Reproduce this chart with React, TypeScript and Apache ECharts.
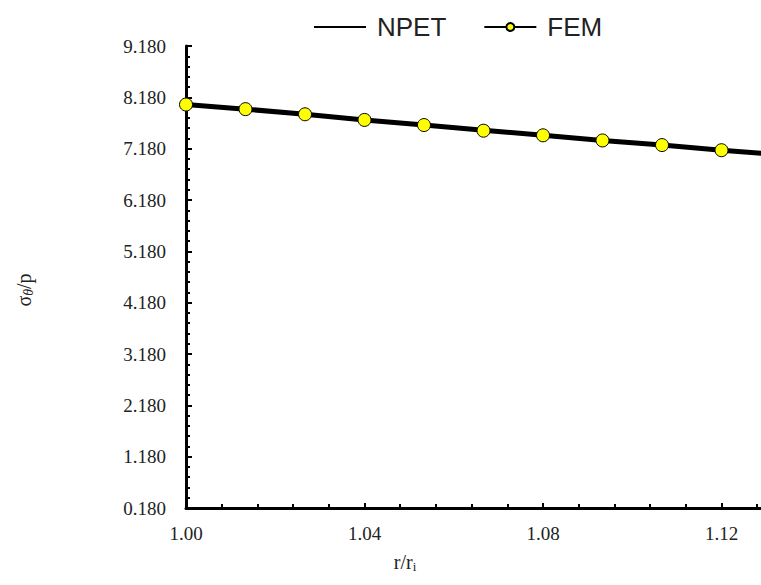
import React, { useEffect, useRef } from "react";
import * as echarts from "echarts";

const femX = [1.0, 1.01333, 1.02667, 1.04, 1.05333, 1.06667, 1.08, 1.09333, 1.10667, 1.12];
const femY = [8.04, 7.95, 7.85, 7.74, 7.64, 7.53, 7.44, 7.34, 7.25, 7.15];
const npetX = [1.0, 1.01333, 1.02667, 1.04, 1.05333, 1.06667, 1.08, 1.09333, 1.10667, 1.12, 1.13333, 1.14667];
const npetY = [8.04, 7.95, 7.85, 7.74, 7.64, 7.54, 7.44, 7.34, 7.25, 7.15, 7.06, 6.97];
const seriesNames = ["NPET", "FEM"];
const yTitle = ["σ", "θ", "/p"];
const xTitle = ["r/r", "i"];

const SERIF = "'Liberation Serif', 'Times New Roman', serif";
const SANS = "'Liberation Sans', Arial, sans-serif";

export default function App() {
  const ref = useRef<HTMLDivElement>(null);
  useEffect(() => {
    if (!ref.current) return;
    const chart = echarts.init(ref.current, undefined, { renderer: "svg", width: 1000, height: 585 });
    chart.setOption({
      animation: false,
      backgroundColor: "#fff",
      grid: { left: 186, width: 714, top: 46, height: 462, containLabel: false },
      legend: {
        data: [
          { name: seriesNames[0], itemStyle: { opacity: 0 } },
          { name: seriesNames[1] },
        ],
        left: 313,
        top: 14,
        padding: 0,
        itemWidth: 52,
        itemHeight: 10,
        itemGap: 37,
        lineStyle: { width: 2, color: "#000" },
        textStyle: { fontFamily: SANS, fontSize: 26, color: "#222", padding: [0, 0, 0, 6] },
      },
      xAxis: {
        type: "value",
        min: 1.0,
        max: 1.16,
        interval: 0.04,
        axisLine: { show: true, lineStyle: { color: "#000", width: 3 } },
        axisTick: { show: true, inside: true, length: 5, lineStyle: { color: "#000", width: 2 } },
        minorTick: { show: true, splitNumber: 5, length: 4, lineStyle: { color: "#000", width: 2 } },
        splitLine: { show: false },
        axisLabel: {
          formatter: (v: number) => (v > 1.13 ? "" : v.toFixed(2)),
          fontFamily: SERIF,
          fontSize: 19,
          color: "#222",
          margin: 16,
        },
      },
      yAxis: {
        type: "value",
        min: 0.18,
        max: 9.18,
        interval: 1,
        axisLine: { show: true, lineStyle: { color: "#000", width: 3 } },
        axisTick: { show: true, inside: true, length: 6, lineStyle: { color: "#000", width: 2 } },
        minorTick: { show: true, splitNumber: 5, length: 4, lineStyle: { color: "#000", width: 2 } },
        splitLine: { show: false },
        axisLabel: {
          formatter: (v: number) => v.toFixed(3),
          fontFamily: SERIF,
          fontSize: 19,
          color: "#222",
          margin: 20,
        },
      },
      series: [
        {
          name: "NPET",
          type: "line",
          data: npetX.map((x, i) => [x, npetY[i]]),
          showSymbol: false,
          symbol: "none",
          lineStyle: { color: "#000", width: 5 },
          itemStyle: { color: "#000" },
          z: 2,
        },
        {
          name: "FEM",
          type: "line",
          data: femX.map((x, i) => [x, femY[i]]),
          symbol: "circle",
          symbolSize: 13,
          lineStyle: { color: "#000", width: 2 },
          itemStyle: { color: "#ffff00", borderColor: "#000", borderWidth: 1 },
          z: 3,
        },
      ],
      graphic: [
        {
          type: "text",
          x: 24,
          y: 290,
          rotation: Math.PI / 2,
          style: {
            text: `{a|${yTitle[0]}}{b|${yTitle[1]}}{a|${yTitle[2]}}`,
            align: "center",
            verticalAlign: "middle",
            rich: {
              a: { fontFamily: SERIF, fontSize: 20, fill: "#222" },
              b: { fontFamily: SERIF, fontSize: 14, fontStyle: "italic", fill: "#222", padding: [8, 0, 0, 0] },
            },
          },
        },
        {
          type: "text",
          x: 405,
          y: 562,
          style: {
            text: `{a|${xTitle[0]}}{b|${xTitle[1]}}`,
            align: "center",
            verticalAlign: "middle",
            rich: {
              a: { fontFamily: SERIF, fontSize: 20, fill: "#222" },
              b: { fontFamily: SERIF, fontSize: 13, fill: "#222", padding: [8, 0, 0, 0] },
            },
          },
        },
      ],
    });
    return () => chart.dispose();
  }, []);
  return (
    <div style={{ position: "absolute", left: 0, top: 0, width: 761, height: 585, overflow: "hidden", background: "#fff" }}>
      <div ref={ref} style={{ width: 1000, height: 585 }} />
    </div>
  );
}
